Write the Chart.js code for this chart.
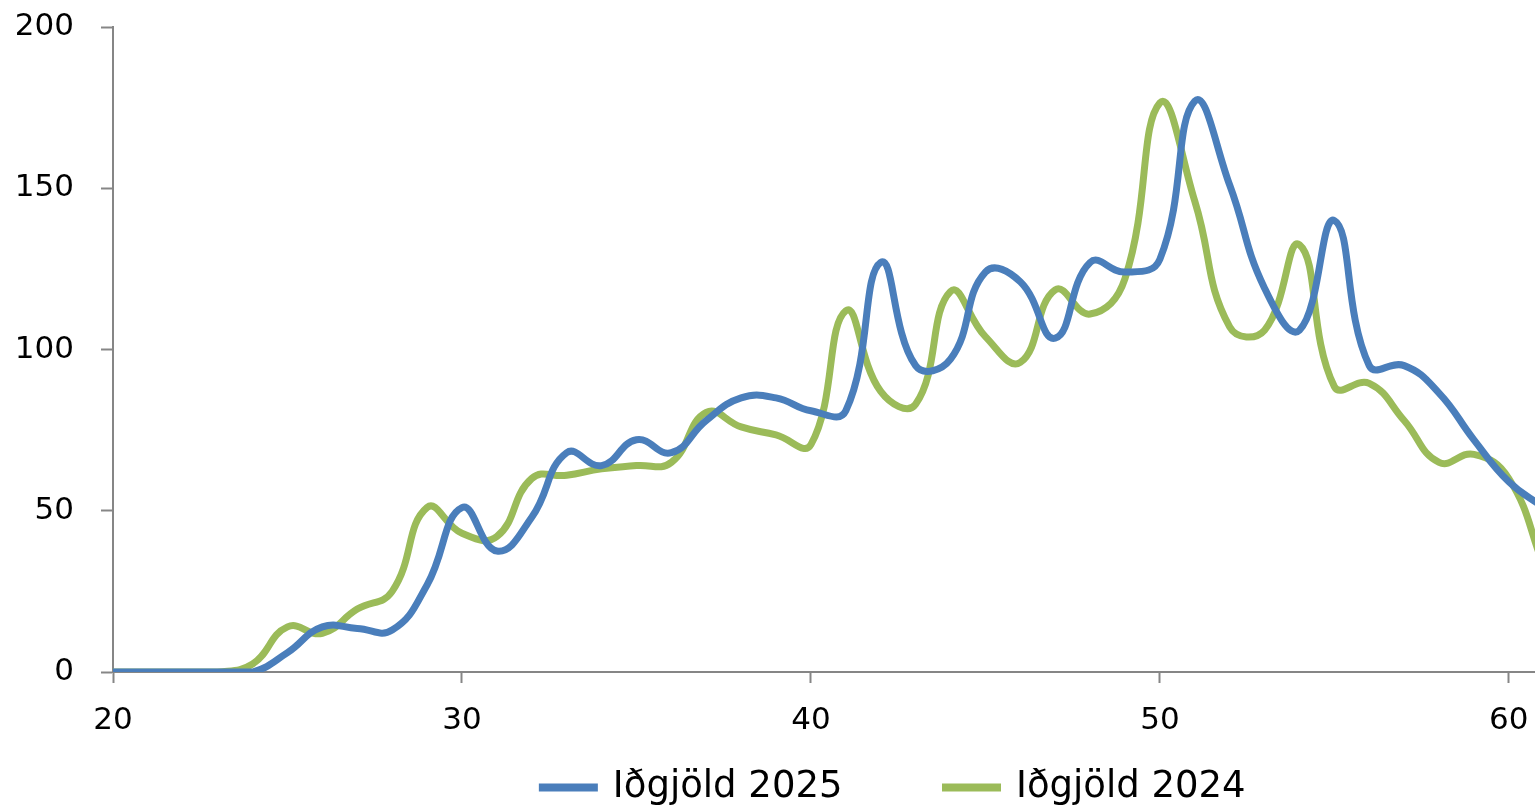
<!DOCTYPE html>
<html>
<head>
<meta charset="utf-8">
<script src="https://cdn.jsdelivr.net/npm/chart.js@4.4.1/dist/chart.umd.min.js"></script>
<style>
  html, body { margin: 0; padding: 0; background: #fff; overflow: hidden; }
  canvas { display: block; }
</style>
</head>
<body>
<!-- the plot runs past the right edge of the window, as in the cropped original -->
<canvas id="chart-ages" width="1788" height="809"></canvas>
<script>
var ages = [20, 21, 22, 23, 24, 25, 26, 27, 28, 29, 30, 31, 32, 33, 34, 35, 36, 37, 38, 39, 40,
    41, 42, 43, 44, 45, 46, 47, 48, 49, 50, 51, 52, 53, 54, 55, 56, 57, 58, 59, 60, 61];

var fees2025 = [0, 0, 0, 0, 0, 6, 14, 13.5, 13, 27, 51, 37.5, 48, 68, 64, 72, 68, 78, 85, 85, 81,
    81, 127, 95, 97, 124, 121, 103.5, 127, 124, 128, 177, 151, 119, 106, 140, 95, 95, 86.5, 72, 59, 51];

var fees2024 = [0, 0, 0, 0, 2.5, 14, 12, 19.5, 25, 51, 43, 42, 60, 61, 63, 64, 65, 80.5, 76, 73.5, 70.5,
    112, 87, 83, 118, 104, 96, 118.5, 111, 122, 176.5, 146, 107, 106, 132.5, 88.5, 89.5, 78, 65, 67.5, 60, 33];

var xTicks = [20, 30, 40, 50, 60];
var yTicks = [0, 50, 100, 150, 200];

var seriesLabels = ["Iðgjöld 2025", "Iðgjöld 2024"];

var axisGrey = "#868686";
var tickFont = { size: 31, family: "DejaVu Sans" };

function toPoints(values) {
    return ages.map(function(age, i) {
        return { x: age, y: values[i] };
    });
}

var ctx = document.getElementById("chart-ages").getContext("2d");

new Chart(ctx, {
    type: "line",
    plugins: [{
        id: "legendPlacement",
        beforeInit(chart) {
            const originalFit = chart.legend.fit;
            chart.legend.fit = function fit() {
                originalFit.bind(chart.legend)();
                this.height = 40;
            }
        },
        afterLayout(chart) {
            // labels.padding is only wanted as the gap between the two items
            chart.legend.top -= chart.legend.options.labels.padding;
        },
    }],
    data: {
        datasets: [{
                label: seriesLabels[0],
                data: toPoints(fees2025),
                borderColor: "#4a7ebb",
                backgroundColor: "#4a7ebb",
                borderWidth: 7,
                pointRadius: 0,
                tension: 0.45,
                fill: false,
            },
            {
                label: seriesLabels[1],
                data: toPoints(fees2024),
                borderColor: "#9bbb59",
                backgroundColor: "#9bbb59",
                borderWidth: 7,
                pointRadius: 0,
                tension: 0.45,
                fill: false,
            },
        ],
    },
    options: {
        responsive: false,
        animation: false,
        layout: {
            padding: { top: 0, right: 0, bottom: 0, left: 0 }
        },
        plugins: {
            legend: {
                display: true,
                position: "bottom",
                labels: {
                    boxWidth: 52,
                    boxHeight: 1,
                    padding: 103,
                    color: "#000",
                    font: { size: 37, family: "DejaVu Sans" },
                },
            },
            tooltip: { enabled: false },
        },
        scales: {
            x: {
                type: "linear",
                min: 20,
                max: 68,
                afterBuildTicks: function(axis) {
                    axis.ticks = xTicks.map(function(v) { return { value: v }; });
                },
                afterFit: function(axis) {
                    axis.height = 97;
                },
                border: { display: true, color: axisGrey, width: 2 },
                grid: {
                    display: true,
                    drawOnChartArea: false,
                    drawTicks: true,
                    tickLength: 11,
                    tickWidth: 2,
                    color: axisGrey,
                },
                ticks: {
                    padding: 19,
                    color: "#000",
                    maxRotation: 0,
                    autoSkip: false,
                    font: tickFont,
                },
            },
            y: {
                min: 0,
                max: 200,
                afterBuildTicks: function(axis) {
                    axis.ticks = yTicks.map(function(v) { return { value: v }; });
                },
                afterFit: function(axis) {
                    axis.width = 113;
                    axis.paddingTop = 27; // only the room the top label needs, not the label gap too
                },
                border: { display: true, color: axisGrey, width: 2 },
                grid: {
                    display: true,
                    drawOnChartArea: false,
                    drawTicks: true,
                    tickLength: 12,
                    tickWidth: 2,
                    color: axisGrey,
                },
                ticks: {
                    padding: 27,
                    color: "#000",
                    font: tickFont,
                },
            },
        },
    },
});
</script>
</body>
</html>
